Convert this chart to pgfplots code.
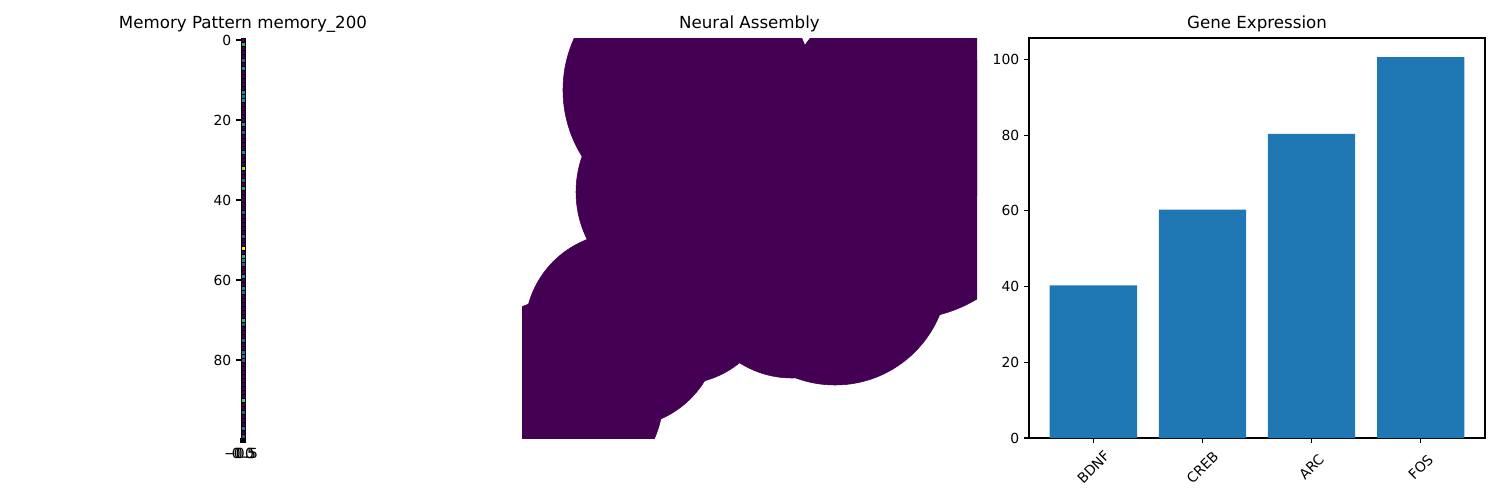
\documentclass[border=0pt]{standalone}
\usepackage{fontspec}
\setmainfont{DejaVu Sans}
\usepackage{pgfplots}
\usepackage{pgfplotstable}
\pgfplotsset{compat=1.18}
\definecolor{mplblue}{HTML}{1F77B4}
\definecolor{vmin}{HTML}{440154}

\pgfplotstableread{
row val
0 0
1 0.62
2 0
3 0
4 0
5 0.3
6 0
7 0.5
8 0
9 0
10 0
11 0
12 0
13 0.45
14 0.38
15 0.5
16 0
17 0
18 0
19 0
20 0
21 0.5
22 0
23 0.3
24 0
25 0
26 0
27 0
28 0.5
29 0
30 0
31 0
32 0.85
33 0
34 0
35 0.3
36 0
37 0.58
38 0
39 0
40 0
41 0
42 0
43 0.28
44 0
45 0
46 0
47 0
48 0
49 0.28
50 0
51 0
52 1.0
53 0
54 0.62
55 0.45
56 0.25
57 0
58 0
59 0.5
60 0
61 0
62 0.38
63 0.35
64 0
65 0
66 0
67 0
68 0
69 0
70 0.65
71 0.2
72 0
73 0
74 0
75 0.3
76 0
77 0
78 0.38
79 0.35
80 0.3
81 0
82 0
83 0
84 0
85 0
86 0
87 0
88 0
89 0
90 0.72
91 0
92 0
93 0.3
94 0
95 0
96 0
97 0.4
98 0
99 0.22
}\memtable

% circle centres in pixel coordinates, radius in pt
\pgfplotstableread{
x y rpt
688 90 90
900 110 82.8
905 180 100.08
682 192 76.32
792 280 70.56
835 272 81.36
680 290 67.68
622 330 69.84
563 398 72
}\circtable

\pgfplotsset{
  mpl/.style={
    scale only axis,
    anchor=south west,
    axis line style={line width=0.8pt},
    tick align=outside,
    major tick length=3.5pt,
    tick style={line width=0.8pt, black},
    xtick pos=bottom, ytick pos=left,
    tick label style={font=\fontsize{10}{12}\selectfont},
    /pgf/number format/assume math mode=true,
    title style={font=\fontsize{12}{14}\selectfont, at={(0.5,1)}, anchor=base, yshift=1pt},
  }
}

\begin{document}
\begin{tikzpicture}
\useasboundingbox (0,0) rectangle (1080pt,360pt);

% Panel 1: memory pattern
\begin{axis}[mpl,
  at={(173.52pt,44.64pt)}, width=2.88pt, height=288pt,
  xmin=-0.5, xmax=0.5, ymin=-0.5, ymax=99.5, y dir=reverse,
  xtick={-0.5,0,0.5}, xticklabels={−0.5,0.0,0.5},
  ytick={0,20,40,60,80},
  axis line style={line width=0.6pt},
  title={Memory Pattern memory\_200},
  colormap/viridis, point meta min=0, point meta max=1,
  clip marker paths=true, axis on top]
\addplot[scatter, only marks, mark=square*, mark size=1.5pt,
  scatter/use mapped color={draw=none, fill=mapped color},
  point meta=explicit]
  table[x expr=0, y=row, meta=val] {\memtable};
\end{axis}

% Panel 2: neural assembly
\begin{axis}[mpl,
  at={(375.84pt,44.64pt)}, width=327.6pt, height=288pt,
  xmin=522, xmax=977, ymin=38, ymax=438, y dir=reverse,
  hide axis, title={Neural Assembly}, clip marker paths=true]
\addplot[scatter, only marks, mark=*,
  scatter/use mapped color={draw=vmin, fill=vmin},
  visualization depends on={\thisrow{rpt} \as \perpointmarksize},
  scatter/@pre marker code/.append style={/tikz/mark size=\perpointmarksize}]
  table[x=x, y=y] {\circtable};
\end{axis}

% Panel 3: gene expression
\begin{axis}[mpl,
  at={(740.88pt,44.64pt)}, width=328.32pt, height=288pt,
  xmin=-0.59, xmax=3.59, ymin=0, ymax=105.63,
  xtick={0,1,2,3}, xticklabels={BDNF,CREB,ARC,FOS},
  ytick={0,20,40,60,80,100},
  xticklabel style={yshift=-17.5pt, rotate=45, anchor=center},
  title={Gene Expression},
  ybar, bar width=0.8]
\addplot[fill=mplblue, draw=none] coordinates {(0,40.3) (1,60.3) (2,80.3) (3,100.6)};
\end{axis}
\end{tikzpicture}
\end{document}
